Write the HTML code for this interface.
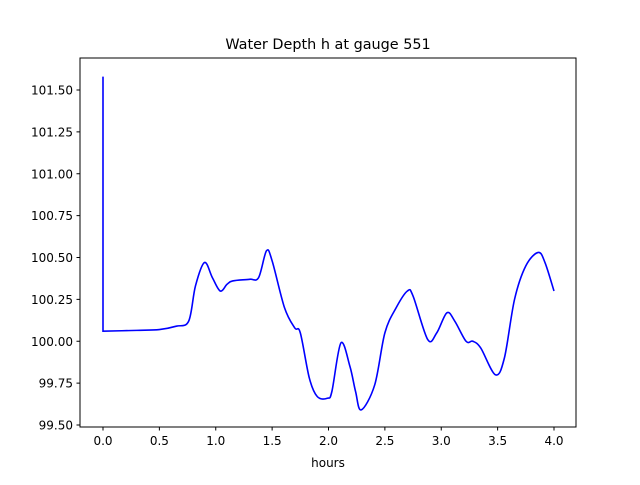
<!DOCTYPE html>
<html><head><meta charset="utf-8"><style>
body{margin:0;background:#fff;}
svg text{font-family:"DejaVu Sans","Liberation Sans",sans-serif;fill:#000;}
</style></head><body>
<svg id="chart" width="640" height="480">
<rect x="0" y="0" width="640" height="480" fill="#fff"/>
<text x="328" y="49" font-size="14.4" text-anchor="middle">Water Depth h at gauge 551</text>
<g id="plot"></g>
<rect x="80" y="58" width="496" height="369" fill="none" stroke="#000" stroke-width="1"/>
<text x="328" y="467" font-size="12" text-anchor="middle">hours</text>
</svg>
<script>
const xTicks=[0,0.5,1,1.5,2,2.5,3,3.5,4];
const xTickLabels=["0.0","0.5","1.0","1.5","2.0","2.5","3.0","3.5","4.0"];
const yTicks=[99.5,99.75,100,100.25,100.5,100.75,101,101.25,101.5];
const yTickLabels=["99.50","99.75","100.00","100.25","100.50","100.75","101.00","101.25","101.50"];
const hours=[0,0,0.3,0.5,0.65,0.76,0.82,0.9,0.97,1.04,1.1,1.15,1.3,1.38,1.45,1.5,1.61,1.7,1.75,1.83,1.9,1.99,2.03,2.11,2.19,2.24,2.29,2.41,2.5,2.6,2.7,2.75,2.88,2.96,3.05,3.12,3.22,3.28,3.35,3.48,3.56,3.65,3.75,3.86,3.92,4.0];
const depth=[101.58,100.06,100.065,100.07,100.09,100.12,100.33,100.47,100.38,100.30,100.34,100.36,100.37,100.38,100.54,100.48,100.20,100.08,100.05,99.78,99.67,99.66,99.7,99.99,99.85,99.70,99.59,99.74,100.05,100.20,100.30,100.27,100.01,100.05,100.17,100.12,100.00,100.00,99.96,99.80,99.90,100.25,100.45,100.53,100.47,100.30];
const X=v=>103+v*112.75, Y=v=>90+(101.5-v)*167.5;
const g=document.getElementById('plot');
const NS='http://www.w3.org/2000/svg';
function mk(t,a){const e=document.createElementNS(NS,t);for(const k in a)e.setAttribute(k,a[k]);g.appendChild(e);return e;}
xTicks.forEach((v,i)=>{
 const l=mk('line',{x1:X(v),x2:X(v),y1:427,y2:430.5,stroke:'#000'});
 
 
 const t=mk('text',{x:X(v),y:445,'font-size':12,'text-anchor':'middle'});t.textContent=xTickLabels[i];
 
 
});
yTicks.forEach((v,i)=>{
 const l=mk('line',{x1:76.5,x2:80,y1:Y(v),y2:Y(v),stroke:'#000'});
 
 
 const t=mk('text',{x:73,y:Y(v)+4.5,'font-size':12,'text-anchor':'end'});t.textContent=yTickLabels[i];
 
 
});
const P=hours.map((h,i)=>[X(h),Y(depth[i])]);
let d='M'+P[0][0]+','+P[0][1]+' L'+P[1][0]+','+P[1][1];
for(let i=1;i<P.length-1;i++){
 const p0=P[Math.max(i-1,1)],p1=P[i],p2=P[i+1],p3=P[Math.min(i+2,P.length-1)];
 const c1=[p1[0]+(p2[0]-p0[0])/6,p1[1]+(p2[1]-p0[1])/6];
 const c2=[p2[0]-(p3[0]-p1[0])/6,p2[1]-(p3[1]-p1[1])/6];
 d+=' C'+c1[0]+','+c1[1]+' '+c2[0]+','+c2[1]+' '+p2[0]+','+p2[1];
}
const line=mk('path',{d:d,fill:'none',stroke:'#0000ff','stroke-width':1.6});


</script>
</body></html>
